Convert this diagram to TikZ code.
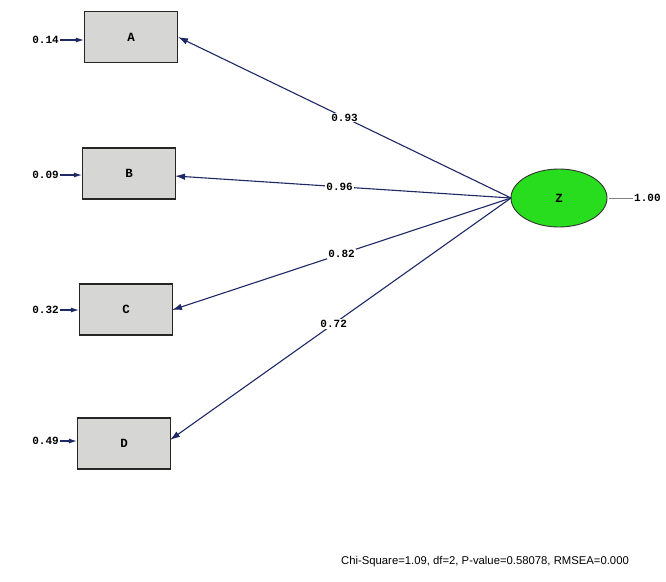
\documentclass[tikz,border=0pt]{standalone}
\usepackage{fontspec}
\setmainfont{Liberation Mono}
\newfontfamily\arialfont{Liberation Sans}
\usetikzlibrary{arrows.meta,shapes.geometric}
\definecolor{navy}{RGB}{30,40,100}
\definecolor{boxgrey}{RGB}{214,214,212}
\definecolor{zgreen}{RGB}{40,220,30}
\tikzset{
  obs/.style={draw=black!85, line width=1.1pt, fill=boxgrey, minimum width=93pt, minimum height=51pt, inner sep=0pt, font=\bfseries\fontsize{12.5}{12.5}\selectfont},
  lat/.style={ellipse, draw=black!80, line width=0.9pt, fill=zgreen, minimum width=96pt, minimum height=58pt, inner sep=0pt, font=\bfseries\fontsize{12.5}{12.5}\selectfont},
  load/.style={draw=navy, line width=1.1pt, -{Latex[length=10pt,width=6.5pt]}},
  err/.style={draw=navy, line width=1.1pt, -{Latex[length=8pt,width=5pt]}},
  lbl/.style={font=\bfseries\fontsize{11}{11}\selectfont, fill=white, inner sep=1pt},
  elbl/.style={font=\bfseries\fontsize{11}{11}\selectfont, inner sep=1pt}
}
\begin{document}
\begin{tikzpicture}[x=1pt,y=-1pt]
\useasboundingbox[fill=white] (0,0) rectangle (666,581);
\node[obs] (A) at (131,37) {A};
\node[obs] (B) at (129,173.5) {B};
\node[obs] (C) at (126,309.5) {C};
\node[obs] (D) at (124,443.5) {D};
\node[lat] (Z) at (559,198) {Z};
\coordinate (zl) at (511,198);
\node[elbl, anchor=west] (ez) at (633,198) {1.00};
\draw[gray, line width=0.5pt] (Z.east) ++(2,0) -- (ez.west);
\node[elbl, anchor=east] (ea) at (60,40) {0.14};
\node[elbl, anchor=east] (eb) at (60,175) {0.09};
\node[elbl, anchor=east] (ec) at (60,310) {0.32};
\node[elbl, anchor=east] (ed) at (60,441) {0.49};
\draw[err] (ea.east) -- (A.west |- ea.east);
\draw[err] (eb.east) -- (B.west |- eb.east);
\draw[err] (ec.east) -- (C.west |- ec.east);
\draw[err] (ed.east) -- (D.west |- ed.east);
\coordinate (ta) at (178,37);
\coordinate (tb) at (175,176);
\coordinate (tc) at (172,310);
\coordinate (td) at (170,440);
\draw[load] (zl) -- node[lbl, pos=0.5] {0.93} (ta);
\draw[load] (zl) -- node[lbl, pos=0.51] {0.96} (tb);
\draw[load] (zl) -- node[lbl, pos=0.5] {0.82} (tc);
\draw[load] (zl) -- node[lbl, pos=0.52] {0.72} (td);
\node[font=\arialfont\fontsize{11.3}{11.3}\selectfont, inner sep=0pt] (fit) at (485,562) {Chi-Square=1.09, df=2, P-value=0.58078, RMSEA=0.000};
\end{tikzpicture}
\end{document}
